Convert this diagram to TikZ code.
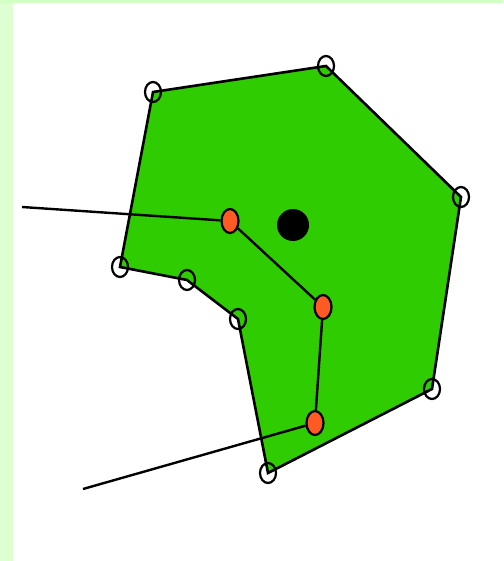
\documentclass[tikz,border=0pt]{standalone}
\usetikzlibrary{shapes.geometric}
\definecolor{bodygreen}{RGB}{46, 204, 0}
\definecolor{jointorange}{RGB}{255, 90, 35}
\definecolor{topband}{RGB}{210, 255, 195}
\definecolor{leftband}{RGB}{222, 255, 210}
\tikzset{
  vertex/.style={ellipse, draw=black, line width=2.2pt, inner sep=0pt,
                 minimum width=16pt, minimum height=20pt},
  joint/.style={ellipse, draw=black, fill=jointorange, line width=2.2pt, inner sep=0pt,
                minimum width=17pt, minimum height=24pt},
  bone/.style={black, line width=2.4pt},
  outline/.style={draw=black, fill=bodygreen, line width=2.6pt, line join=miter},
}
\begin{document}
\begin{tikzpicture}[x=1pt, y=-1pt]
  % frame
  \useasboundingbox (0,0) rectangle (503,561);
  \fill[white] (0,0) rectangle (503,561);
  \fill[leftband] (0,0) rectangle (13,561);
  \fill[topband] (0,0) rectangle (503,3);

  % hull corners
  \coordinate (c1) at (153,92);
  \coordinate (c2) at (326,66);
  \coordinate (c3) at (461,197);
  \coordinate (c4) at (432,389);
  \coordinate (c5) at (268,473);
  \coordinate (c6) at (238,319);
  \coordinate (c7) at (187,280);
  \coordinate (c8) at (120,267);
  \path[outline] (c1) -- (c2) -- (c3) -- (c4) -- (c5) -- (c6) -- (c7) -- (c8) -- cycle;

  % centre of mass
  \node[circle, fill=black, inner sep=0pt, minimum size=32pt] (com) at (293,225) {};

  % skeleton
  \coordinate (top end) at (22,207);
  \coordinate (low end) at (83,489);
  \node[joint] (j1) at (230,221) {};
  \node[joint] (j2) at (323,307) {};
  \node[joint] (j3) at (315,423) {};
  \draw[bone] (top end) -- (j1);
  \draw[bone] (j1) -- (j2);
  \draw[bone] (j2) -- (j3);
  \draw[bone] (j3) -- (low end);

  % hull vertex markers
  \foreach \c in {c1,c2,c3,c4,c5,c6,c7,c8}
    \node[vertex] (m\c) at (\c) {};
\end{tikzpicture}
\end{document}
